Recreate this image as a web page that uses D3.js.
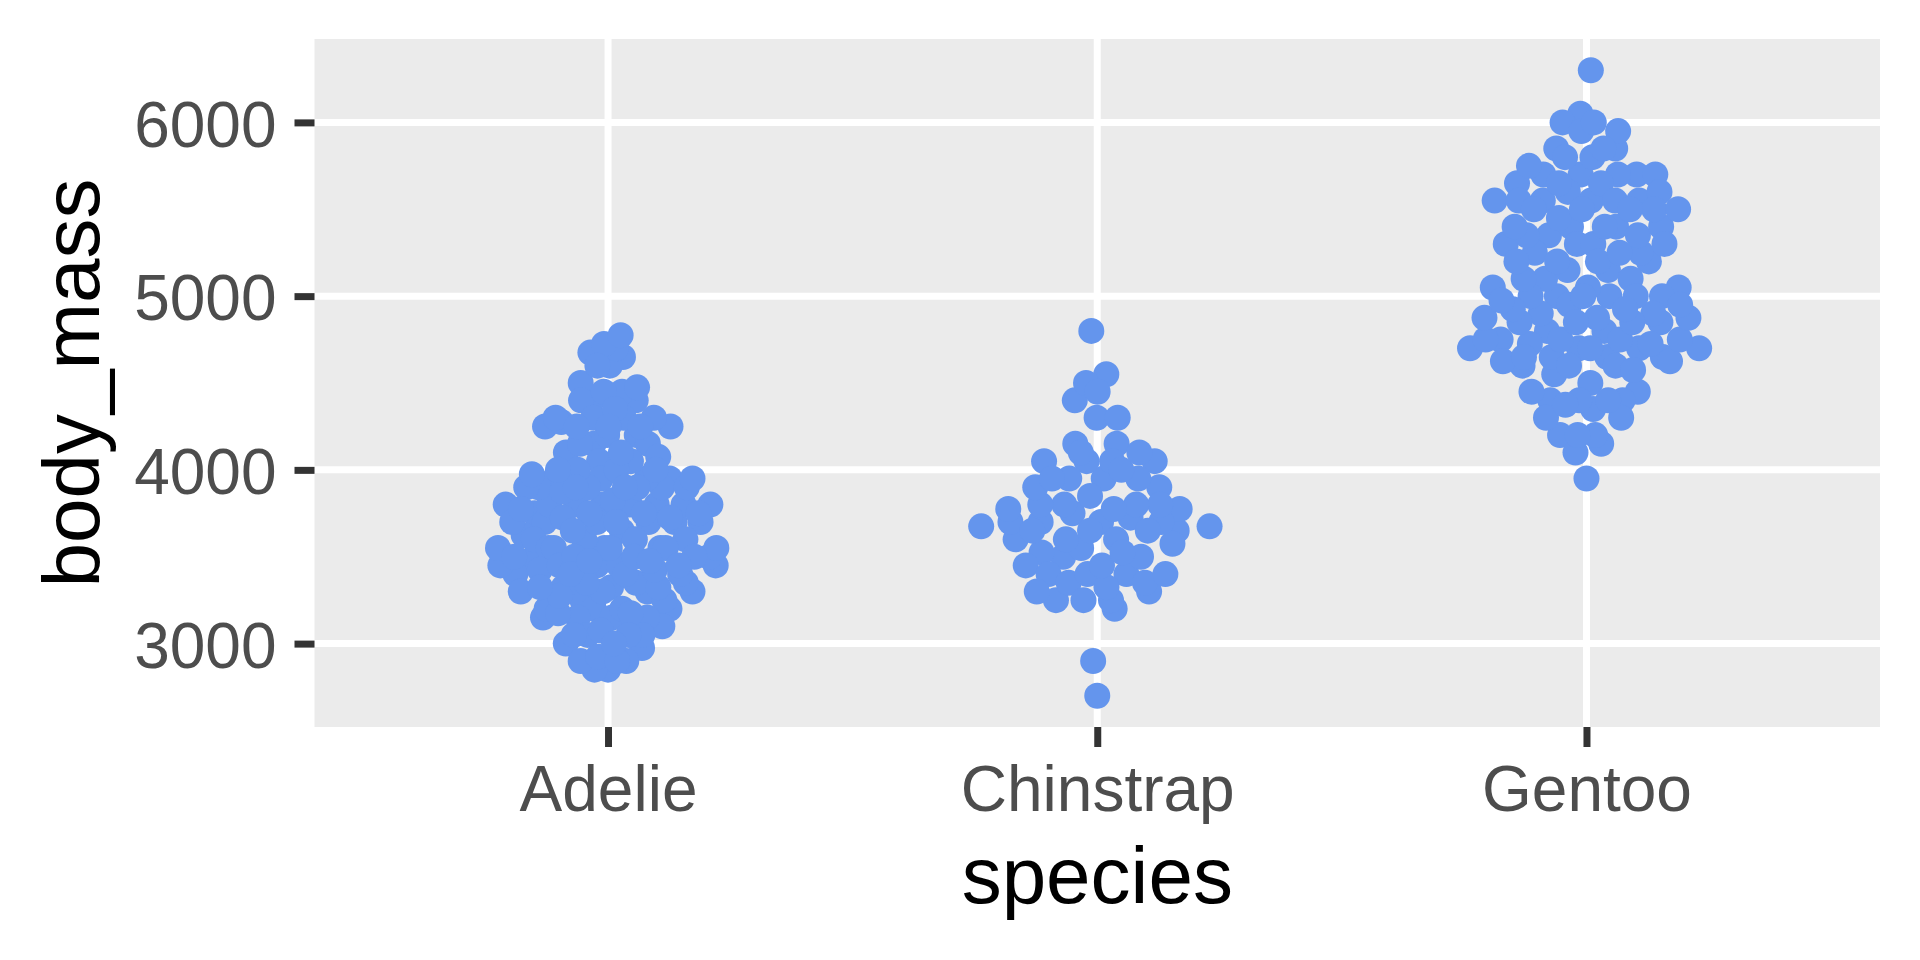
<!DOCTYPE html>
<html>
<head>
<meta charset="utf-8">
<script src="https://cdn.jsdelivr.net/npm/d3@7"></script>
<style>
  html, body { margin: 0; padding: 0; background: #fff; }
  svg { display: block; font-family: "Liberation Sans", Arial, sans-serif; }
</style>
</head>
<body>
<div id="chart"></div>
<script>
// body_mass by species (penguins), NA rows dropped
const species = ["Adelie", "Chinstrap", "Gentoo"];

const adelie = [3750, 3800, 3250, 3450, 3650, 3625, 4675, 3475, 4250, 3300,
  3700, 3200, 3800, 4400, 3700, 3450, 4500, 3325, 4200, 3400,
  3600, 3800, 3950, 3800, 3800, 3550, 3200, 3150, 3950, 3250,
  3900, 3300, 3900, 3325, 4150, 3950, 3550, 3300, 4650, 3150,
  3900, 3100, 4400, 3000, 4600, 3425, 2975, 3450, 4150, 3500,
  4300, 3450, 4050, 2900, 3700, 3550, 3800, 2850, 3750, 3150,
  4400, 3600, 4050, 2850, 3950, 3350, 4100, 3050, 4450, 3600,
  3900, 3550, 4150, 3700, 4250, 3700, 3900, 3550, 4000, 3200,
  4700, 3800, 4200, 3350, 3550, 3800, 3500, 3950, 3600, 3550,
  4300, 3400, 4450, 3300, 4300, 3700, 4350, 2900, 4100, 3725,
  4725, 3075, 4250, 2925, 3550, 3750, 3900, 3175, 4775, 3825,
  4600, 3200, 4275, 3900, 4075, 2900, 3775, 3350, 3325, 3150,
  3500, 3450, 3875, 3050, 4000, 3275, 4300, 3050, 4000, 3325,
  3500, 3500, 4475, 3425, 3900, 3175, 3975, 3400, 4250, 3400,
  3475, 3050, 3725, 3000, 3650, 4250, 3475, 3450, 3750, 3700, 4000];

const chinstrap = [3500, 3900, 3650, 3525, 3725, 3950, 3250, 3750, 4150, 3700,
  3800, 3775, 3700, 4050, 3575, 4050, 3300, 3700, 3450, 4400,
  3600, 3400, 2900, 3800, 3300, 4150, 3400, 3800, 3700, 4550,
  3200, 4300, 3350, 4100, 3600, 3900, 3850, 4800, 2700, 4500,
  3950, 3650, 3550, 3500, 3675, 4450, 3400, 4300, 3250, 3675,
  3325, 3950, 3600, 4050, 3350, 3450, 3250, 4050, 3800, 3525,
  3950, 3650, 3650, 4000, 3400, 3775, 4100, 3775];

const gentoo = [4500, 5700, 4450, 5700, 5400, 4550, 4800, 5200, 4400, 5150,
  4650, 5550, 4650, 5850, 4200, 5850, 4150, 6300, 4800, 5350,
  5700, 5000, 4400, 5050, 5000, 5100, 4100, 5650, 4600, 5550,
  5250, 4700, 5050, 6050, 5150, 5400, 4950, 5250, 4350, 5350,
  3950, 5700, 4300, 4750, 5550, 4900, 4200, 5400, 5100, 5300,
  4850, 5300, 4400, 5000, 4900, 5050, 4300, 5000, 4450, 5550,
  4200, 5300, 4400, 5650, 4700, 5700, 4650, 5800, 4700, 5550,
  4750, 5000, 5100, 5200, 4700, 5800, 4600, 6000, 4750, 5950,
  4625, 5450, 4725, 5350, 4750, 5600, 4600, 5300, 4875, 5550,
  4950, 5400, 4750, 5650, 4850, 5200, 4925, 4875, 4625, 5250,
  4850, 5600, 4975, 5500, 4725, 5500, 4700, 5500, 4575, 5500,
  5000, 5950, 4650, 5500, 4375, 5850, 4875, 6000, 4925,
  4850, 5750, 5200, 5400];

const yTicks = [3000, 4000, 5000, 6000];

const groups = [adelie, chinstrap, gentoo];

// page / panel geometry
const width = 1920, height = 960;
const panel = {left: 314.5, right: 1880, top: 39, bottom: 727};
const pointColor = "#6495ED";
const pointRadius = 13;
const spread = 0.247;      // max half-width, in category steps
const bwAdjust = 0.5;

// ggplot style 5% expansion of the data range
const allValues = [].concat(...groups);
const yMin = d3.min(allValues), yMax = d3.max(allValues);
const pad = (yMax - yMin) * 0.05;

const y = d3.scaleLinear()
  .domain([yMin - pad, yMax + pad])
  .range([panel.bottom, panel.top]);

const x = d3.scalePoint()
  .domain(species)
  .range([panel.left, panel.right])
  .padding(0.6);

// --- quasirandom offsets (density scaled van der Corput), like ggbeeswarm ---
function vanDerCorput(n) {
  const out = [];
  for (let i = 1; i <= n; i++) {
    let k = i, f = 0.5, v = 0;
    while (k > 0) { v += f * (k % 2); k = Math.floor(k / 2); f /= 2; }
    out.push(v);
  }
  return out;
}

function bwNrd0(vals) {
  const s = vals.slice().sort(d3.ascending);
  const sd = d3.deviation(s);
  const iqr = d3.quantileSorted(s, 0.75) - d3.quantileSorted(s, 0.25);
  const lo = Math.min(sd, iqr / 1.34) || sd || 1;
  return 0.9 * lo * Math.pow(s.length, -0.2);
}

function quasirandom(vals) {
  const bw = bwNrd0(vals) * bwAdjust;
  const kde = v => d3.sum(vals, d => Math.exp(-0.5 * ((v - d) / bw) ** 2));
  // normalise by the density peak over a fine grid
  const lo = d3.min(vals) - 3 * bw, hi = d3.max(vals) + 3 * bw;
  const grid = d3.range(1024).map(i => kde(lo + (hi - lo) * i / 1023));
  const peak = d3.max(grid);
  const order = d3.range(vals.length).sort((a, b) => vals[a] - vals[b] || a - b);
  const vdc = vanDerCorput(vals.length);
  const offs = new Array(vals.length);
  order.forEach((idx, r) => {
    offs[idx] = (vdc[r] - 0.5) * 2 * kde(vals[idx]) / peak;
  });
  return offs;
}

const points = [];
groups.forEach((vals, g) => {
  const offs = quasirandom(vals);
  vals.forEach((v, i) => points.push({species: species[g], value: v, offset: offs[i]}));
});

// --- draw ---
const svg = d3.select("#chart").append("svg")
  .attr("width", width)
  .attr("height", height);

svg.append("rect")
  .attr("x", panel.left)
  .attr("y", panel.top)
  .attr("width", panel.right - panel.left)
  .attr("height", panel.bottom - panel.top)
  .attr("fill", "#EBEBEB");

// grid lines
svg.append("g").selectAll("line")
  .data(yTicks)
  .join("line")
    .attr("x1", panel.left).attr("x2", panel.right)
    .attr("y1", d => y(d)).attr("y2", d => y(d))
    .attr("stroke", "#fff").attr("stroke-width", 7);

svg.append("g").selectAll("line")
  .data(species)
  .join("line")
    .attr("x1", d => x(d)).attr("x2", d => x(d))
    .attr("y1", panel.top).attr("y2", panel.bottom)
    .attr("stroke", "#fff").attr("stroke-width", 7);

// points
svg.append("g").selectAll("circle")
  .data(points)
  .join("circle")
    .attr("cx", d => x(d.species) + d.offset * spread * x.step())
    .attr("cy", d => y(d.value))
    .attr("r", pointRadius)
    .attr("fill", pointColor);

// axes
const yAxis = svg.append("g")
  .attr("transform", `translate(${panel.left},0)`)
  .call(d3.axisLeft(y).tickValues(yTicks).tickFormat(d3.format("d")).tickSize(20).tickPadding(18));

const xAxis = svg.append("g")
  .attr("transform", `translate(0,${panel.bottom})`)
  .call(d3.axisBottom(x).tickSize(20).tickPadding(18));

[yAxis, xAxis].forEach(ax => {
  ax.select(".domain").remove();
  ax.selectAll(".tick line").attr("stroke", "#333333").attr("stroke-width", 7);
  ax.selectAll(".tick text")
    .attr("fill", "#4D4D4D")
    .attr("font-size", 64)
    .attr("font-family", "'Liberation Sans', Arial, sans-serif");
});
yAxis.selectAll(".tick text").attr("dy", "0.37em");
xAxis.selectAll(".tick text").attr("y", 84).attr("dy", 0);

// axis titles
svg.append("text")
  .attr("x", (panel.left + panel.right) / 2)
  .attr("y", 903)
  .attr("text-anchor", "middle")
  .attr("font-size", 80)
  .attr("fill", "#000")
  .text("species");

svg.append("text")
  .attr("transform", `translate(99,${(panel.top + panel.bottom) / 2}) rotate(-90)`)
  .attr("text-anchor", "middle")
  .attr("font-size", 80)
  .attr("fill", "#000")
  .text("body_mass");
</script>
</body>
</html>
